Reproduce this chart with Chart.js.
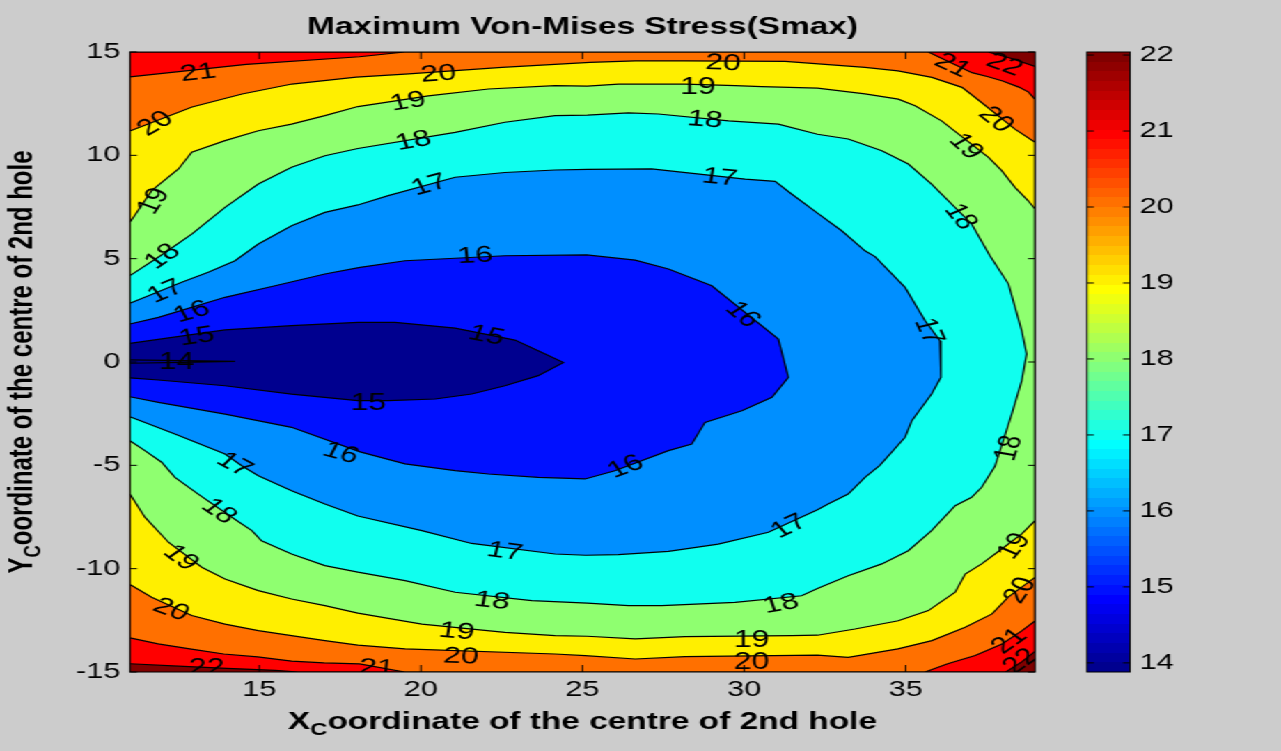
<!DOCTYPE html>
<html>
<head>
<meta charset="utf-8">
<title>Maximum Von-Mises Stress(Smax)</title>
<script src="https://cdn.jsdelivr.net/npm/chart.js@4.4.0/dist/chart.umd.min.js"></script>
<style>
  html, body { margin: 0; padding: 0; background: #ffffff; overflow: hidden; }
  #figure { position: absolute; left: 0; top: 0; width: 920px; height: 751px; background: #cccccc;
            transform: scaleX(1.3924); transform-origin: 0 0; }
  #figure canvas { position: absolute; left: 0; top: 0; }
</style>
</head>
<body>
<div id="figure">
  <canvas id="contourChart" width="920" height="751"></canvas>
  <canvas id="colorbarChart" width="920" height="751"></canvas>
</div>
<script>
// axis ranges and ticks
const xRange = [11, 39];
const yRange = [-15, 15];
const colorRange = [13.88, 22.04];
const xTicks = [15, 20, 25, 30, 35];
const yTicks = [-15, -10, -5, 0, 5, 10, 15];
const colorbarTicks = [14, 15, 16, 17, 18, 19, 20, 21, 22];

// contour lines, [x, y] in data units
const c22TopRight = [[37.55, 15], [38.25, 14.7], [39, 14.3]];
const c22BottomRight = [[39, -14], [38.6, -14.5], [38.1, -15]];
const c22BottomLeft = [[11, -14.6], [12.5, -14.72], [14, -14.82], [15.5, -14.92], [16.2, -15]];

const c21TopLeft = [[11, 13.8], [14.6, 14.4], [18.1, 14.77], [19.5, 15]];
const c21TopRight = [[35.7, 15], [37.05, 14], [37.55, 13.8], [38, 13.6], [38.5, 13.3], [38.8, 13.06], [39, 12.7]];
const c21BottomLeft = [[11, -13.35], [11.87, -13.64], [12.9, -13.89], [13.9, -14.13], [14.95, -14.27], [16, -14.47], [17, -14.56], [18.1, -14.61], [19.5, -15]];
const c21BottomRight = [[35.6, -15], [36.3, -14.6], [37.15, -14.2], [37.98, -13.64], [38.6, -13.0], [39, -12.53]];

const c20Top = [[11, 11.18], [12.92, 12.34], [14.47, 12.97], [16.01, 13.45], [18.0, 13.78], [19.51, 13.93], [22.51, 14.26],
  [25.23, 14.5], [26.63, 14.57], [28.17, 14.57], [31.27, 14.55], [33.74, 14.26], [34.76, 14.09], [35.81, 13.77],
  [36.74, 13.29], [37.14, 12.81], [38.38, 11.27], [39, 10.63]];
const c20Bottom = [[11, -10.77], [11.67, -11.38], [12.91, -12.27], [13.94, -12.68], [14.97, -13.0], [16.0, -13.24],
  [17.03, -13.48], [18.05, -13.7], [19.51, -13.88], [24.15, -14.13], [25.08, -14.21], [26.63, -14.37], [28.17, -14.26],
  [32.27, -14.18], [33.22, -14.29], [34.76, -13.88], [35.81, -13.48], [36.84, -12.84], [37.67, -12.19], [38.17, -11.38], [39, -10.42]];

const c19Top = [[11, 6.76], [11.67, 8.29], [12.5, 9.34], [12.91, 10.15], [13.94, 10.71], [14.97, 11.19], [16.0, 11.51],
  [17.03, 11.92], [18.05, 12.36], [20.23, 12.88], [22.09, 13.21], [24.15, 13.37], [25.15, 13.35], [26.11, 13.45],
  [28.17, 13.45], [29.72, 13.37], [30.54, 13.32], [32.27, 13.25], [33.74, 12.97], [34.77, 12.72], [35.29, 12.4],
  [36.11, 11.67], [37.56, 9.9], [37.97, 9.26], [38.38, 8.45], [38.79, 7.8], [39, 7.4]];
const c19Bottom = [[11, -6.39], [11.46, -7.51], [12.19, -8.72], [13.22, -9.93], [13.94, -10.5], [14.97, -11.06], [16.0, -11.47],
  [17.03, -11.79], [18.05, -12.15], [20.03, -12.68], [22.6, -13.08], [24.15, -13.24], [25.15, -13.27], [26.63, -13.4],
  [28.17, -13.29], [31.47, -13.24], [32.27, -13.22], [33.43, -12.92], [34.77, -12.52], [35.7, -12.03], [36.53, -11.14],
  [36.84, -10.26], [37.35, -9.77], [37.97, -9.05], [38.59, -8.32], [39, -7.68]];

const c18 = [[11, 4.18], [11.93, 5.13], [12.91, 6.19], [13.94, 7.48], [14.97, 8.61], [16.0, 9.42], [17.03, 9.98], [18.05, 10.33],
  [21.06, 11.11], [22.6, 11.6], [24.15, 11.92], [25.15, 11.95], [26.42, 12.05], [27.35, 12.0], [29.52, 11.67], [31.06, 11.51],
  [32.27, 11.02], [33.22, 10.79], [34.26, 10.22], [35.08, 9.58], [35.8, 8.61], [37.04, 6.68], [37.6, 5.15], [38.18, 3.77],
  [38.59, 1.51], [38.74, 0.39], [38.59, -0.9], [38.28, -2.52], [37.76, -5.05], [37.35, -6.06], [37.04, -6.55], [36.53, -6.95],
  [35.8, -8.16], [35.08, -9.13], [34.26, -9.77], [33.22, -10.34], [32.27, -10.96], [31.78, -11.31], [29.72, -11.63],
  [27.45, -11.79], [26.42, -11.79], [25.15, -11.67], [23.43, -11.55], [21.06, -11.14], [19.51, -10.58], [18.05, -10.17],
  [17.03, -9.85], [16.0, -9.29], [15.07, -8.65], [14.77, -8.16], [14.15, -7.51], [13.11, -6.39], [12.39, -5.58],
  [11.98, -4.85], [11.46, -4.29], [11, -3.81]];

const c17 = [[11, 2.84], [12.6, 3.86], [13.42, 4.34], [14.25, 4.9], [14.97, 5.71], [16.0, 6.59], [17.03, 7.24], [18.05, 7.6],
  [18.99, 8.05], [21.06, 8.94], [22.6, 9.17], [24.15, 9.29], [25.15, 9.32], [27.14, 9.34], [30.03, 8.85], [30.96, 8.74],
  [31.47, 8.13], [32.27, 7.2], [33.02, 6.35], [33.74, 5.38], [34.05, 5.1], [34.98, 3.61], [35.6, 2.0], [36.06, 1.03],
  [36.09, -0.74], [35.8, -1.55], [35.19, -2.84], [34.98, -3.64], [34.2, -5.0], [33.74, -5.58], [33.22, -6.39], [32.6, -6.87],
  [32.27, -7.15], [30.75, -8.24], [29.2, -8.81], [27.66, -9.16], [26.11, -9.32], [25.1, -9.35], [24.15, -9.29],
  [21.57, -8.78], [20.03, -8.16], [18.05, -7.45], [17.03, -6.87], [16.0, -6.23], [14.97, -5.5], [14.46, -5.02],
  [13.94, -4.45], [12.39, -3.48], [11, -2.65]];

const c16 = [[11, 1.84], [11.88, 2.16], [13.94, 3.13], [15.49, 3.69], [17.03, 4.26], [18.12, 4.58], [19.51, 4.9], [22.6, 5.14],
  [25.13, 5.18], [26.63, 4.93], [27.66, 4.5], [29.0, 3.69], [31.06, 1.11], [31.37, -0.74], [30.86, -1.71], [29.93, -2.36],
  [28.79, -2.92], [28.38, -3.97], [27.66, -4.29], [26.0, -5.26], [25.08, -5.66], [23.63, -5.58], [22.09, -5.42],
  [21.06, -5.26], [19.51, -4.93], [18.12, -4.35], [16.0, -3.16], [13.94, -2.52], [11.88, -1.95], [11, -1.68]];

const c15 = [[11, 0.9], [13.94, 1.55], [16.0, 1.76], [18.05, 1.92], [19.2, 1.92], [21.06, 1.64], [22.91, 1.06], [23.63, 0.55],
  [24.41, -0.02], [23.63, -0.66], [22.6, -1.15], [21.57, -1.55], [20.44, -1.79], [18.99, -1.87], [18.05, -1.87],
  [16.0, -1.55], [13.94, -1.15], [11.88, -0.87], [11, -0.77]];

const c14 = [[11, 0.1], [12.6, 0.07], [14.25, 0.03], [12.6, -0.02], [11, -0.06]];

// contour labels: text, x, y, angle (degrees, as seen in the picture)
const contourLabels = [
  ['21', 13.1, 14.03, 6], ['20', 11.77, 11.56, 30], ['19', 11.7, 7.8, 55], ['18', 11.99, 5.13, 34],
  ['17', 12.08, 3.45, 22], ['16', 12.9, 2.46, 16], ['15', 13.06, 1.27, 8], ['14', 12.44, 0.03, 0],
  ['20', 20.54, 13.97, 4], ['19', 19.6, 12.64, 9], ['18', 19.76, 10.74, 10], ['17', 20.25, 8.61, 15],
  ['16', 21.68, 5.18, 3], ['15', 22.04, 1.32, -11], ['15', 18.37, -1.95, 0],
  ['20', 29.35, 14.5, -2], ['19', 28.57, 13.32, 0], ['18', 28.79, 11.76, -4], ['17', 29.25, 8.97, -5],
  ['21', 36.47, 14.38, -25], ['22', 38.07, 14.42, -20], ['20', 37.82, 11.76, -38], ['19', 36.89, 10.46, -42],
  ['18', 36.73, 7.05, -50], ['16', 29.98, 2.32, -39], ['17', 35.75, 1.51, -65], ['18', 38.16, -4.16, 72],
  ['16', 26.32, -5.03, 20], ['16', 17.53, -4.37, -15], ['17', 14.25, -4.93, -28], ['18', 13.78, -7.19, -34],
  ['19', 12.6, -9.45, -37], ['20', 12.29, -11.95, -20], ['22', 13.37, -14.77, 0], ['21', 18.63, -14.77, -3],
  ['17', 22.6, -9.13, -7], ['18', 22.21, -11.52, -6], ['19', 21.11, -13.0, -5], ['20', 21.24, -14.21, -2],
  ['17', 31.37, -7.92, 25], ['18', 31.13, -11.67, 10], ['19', 30.23, -13.43, 0], ['20', 30.23, -14.48, 0],
  ['19', 38.33, -8.89, 50], ['20', 38.51, -11.03, 55], ['21', 38.18, -13.48, 35], ['22', 38.54, -14.45, 35]
];

const TITLE = 'Maximum Von-Mises Stress(Smax)';
const FONT = '"Liberation Sans", Arial, sans-serif';
const STRETCH = 1281 / 920;   // the figure is drawn narrow and widened by css

document.addEventListener('DOMContentLoaded', function() {
    Chart.defaults.font.family = FONT;
    Chart.defaults.color = '#000';

    // pixel frame of the axes and colorbar in the reference (visual px)
    const plotLeft = 130 / STRETCH;
    const plotRight = 1035 / STRETCH;
    const barLeft = 1087 / STRETCH;
    const barRight = 1130 / STRETCH;

    /**
     * MATLAB jet(64) colormap row, i in 1..64.
     */
    function jet64(i) {
        const n = 16;
        const u = [];
        for (let k = 1; k <= n; k++) u.push(k / n);
        for (let k = 0; k < n - 1; k++) u.push(1);
        for (let k = n; k >= 1; k--) u.push(k / n);
        const comp = (j) => (j >= 1 && j <= u.length ? u[j - 1] : 0);
        return [comp(i - 24), comp(i - 8), comp(i + 8)].map(c => Math.round(c * 255));
    }

    /**
     * Colour that MATLAB gives to a value with caxis = colorRange.
     */
    function jetColor(v) {
        let idx = Math.floor((v - colorRange[0]) / (colorRange[1] - colorRange[0]) * 64) + 1;
        idx = Math.max(1, Math.min(64, idx));
        const [r, g, b] = jet64(idx);
        return `rgb(${r}, ${g}, ${b})`;
    }

    const toPoints = (pairs) => pairs.map(([x, y]) => ({ x, y }));
    const rev = (arr) => arr.slice().reverse();

    // sub-level regions, innermost first so it ends up on top
    const regions = [
        { level: 14, path: c14 },
        { level: 15, path: c15 },
        { level: 16, path: c16 },
        { level: 17, path: c17 },
        { level: 18, path: c18 },
        { level: 19, path: [...c19Top, ...rev(c19Bottom)] },
        { level: 20, path: [...c20Top, ...rev(c20Bottom)] },
        { level: 21, path: [...c21TopLeft, ...c21TopRight, ...rev(c21BottomRight), ...rev(c21BottomLeft)] },
        { level: 22, path: [[xRange[0], yRange[1]], ...c22TopRight, ...c22BottomRight, ...rev(c22BottomLeft)] }
    ];

    const tickFont = { family: FONT, size: 22 };

    const backgroundPlugin = {
        id: 'contourBackground',
        beforeDatasetsDraw(chart) {
            const { ctx, chartArea: a } = chart;
            ctx.save();
            ctx.fillStyle = jetColor(22);
            ctx.fillRect(a.left, a.top, a.width, a.height);
            ctx.restore();
        }
    };

    const labelPlugin = {
        id: 'contourLabels',
        afterDatasetsDraw(chart) {
            const { ctx, chartArea: a, scales: { x, y } } = chart;
            ctx.save();
            ctx.beginPath();
            ctx.rect(a.left, a.top, a.width, a.height);
            ctx.clip();
            ctx.font = `23px ${FONT}`;
            ctx.fillStyle = '#000';
            ctx.textAlign = 'center';
            ctx.textBaseline = 'middle';
            contourLabels.forEach(([text, lx, ly, deg]) => {
                const t = deg * Math.PI / 180;
                const inner = Math.atan2(STRETCH * Math.sin(t), Math.cos(t));
                ctx.save();
                ctx.translate(x.getPixelForValue(lx), y.getPixelForValue(ly));
                ctx.rotate(-inner);
                ctx.fillText(text, 0, 1);
                ctx.restore();
            });
            ctx.restore();
        }
    };

    /**
     * Black box with MATLAB style inward ticks.
     */
    function drawBox(chart, xVals, yVals, yBothSides) {
        const { ctx, chartArea: a, scales } = chart;
        ctx.save();
        ctx.strokeStyle = '#000';
        ctx.lineWidth = 1;
        ctx.strokeRect(a.left, a.top, a.width, a.height);
        ctx.beginPath();
        xVals.forEach(v => {
            const px = scales.x.getPixelForValue(v);
            ctx.moveTo(px, a.bottom); ctx.lineTo(px, a.bottom - 7);
            ctx.moveTo(px, a.top); ctx.lineTo(px, a.top + 7);
        });
        yVals.forEach(v => {
            const py = scales.y.getPixelForValue(v);
            if (yBothSides) { ctx.moveTo(a.left, py); ctx.lineTo(a.left + 5, py); }
            ctx.moveTo(a.right, py); ctx.lineTo(a.right - 5, py);
        });
        ctx.stroke();
        ctx.restore();
    }

    const boxPlugin = {
        id: 'axesBox',
        afterDatasetsDraw(chart) { drawBox(chart, xTicks, yTicks, true); }
    };

    /**
     * Axis label with a subscript letter, e.g. X_C oordinate ...
     */
    function drawSubLabel(ctx, cx, cy, head, sub, tail, vertical) {
        const big = `bold 24px ${FONT}`;
        const small = `bold 17px ${FONT}`;
        ctx.save();
        ctx.translate(cx, cy);
        if (vertical) ctx.rotate(-Math.PI / 2);
        ctx.fillStyle = '#000';
        ctx.textBaseline = 'alphabetic';
        ctx.font = big;
        const w1 = ctx.measureText(head).width;
        const w3 = ctx.measureText(tail).width;
        ctx.font = small;
        const w2 = ctx.measureText(sub).width;
        let x = -(w1 + w2 + w3) / 2;
        ctx.font = big; ctx.fillText(head, x, 8); x += w1;
        ctx.font = small; ctx.fillText(sub, x, 14); x += w2;
        ctx.font = big; ctx.fillText(tail, x, 8);
        ctx.restore();
    }

    const axisTitlePlugin = {
        id: 'axisTitles',
        afterDraw(chart) {
            const { ctx, chartArea: a } = chart;
            drawSubLabel(ctx, (a.left + a.right) / 2, 721, 'X', 'C', 'oordinate of the centre of 2nd hole', false);
            drawSubLabel(ctx, 15, (a.top + a.bottom) / 2, 'Y', 'C', 'oordinate of the centre of 2nd hole', true);
        }
    };

    new Chart(document.getElementById('contourChart'), {
        type: 'scatter',
        data: {
            datasets: regions.map(r => ({
                label: `Smax < ${r.level}`,
                data: toPoints(r.path),
                showLine: true,
                fill: 'shape',
                backgroundColor: jetColor(r.level - 1),
                borderColor: '#000',
                borderWidth: 1.2,
                pointRadius: 0,
                pointHoverRadius: 0,
                tension: 0
            }))
        },
        options: {
            responsive: false,
            animation: false,
            events: [],
            layout: { padding: { left: 0, right: 920 - plotRight, top: 0, bottom: 0 } },
            plugins: {
                legend: { display: false },
                tooltip: { enabled: false },
                title: {
                    display: true,
                    text: TITLE,
                    color: '#000',
                    fullSize: false,
                    font: { family: FONT, size: 24, weight: 'bold', lineHeight: 1.2 },
                    padding: { top: 13, bottom: 10.2 }
                }
            },
            scales: {
                x: {
                    type: 'linear',
                    min: xRange[0],
                    max: xRange[1],
                    afterBuildTicks: (axis) => { axis.ticks = xTicks.map(value => ({ value })); },
                    afterFit: (axis) => { axis.height = 751 - 672; },
                    grid: { display: false, drawTicks: false },
                    border: { display: false },
                    ticks: { font: tickFont, color: '#000', padding: 5, maxRotation: 0, autoSkip: false }
                },
                y: {
                    type: 'linear',
                    min: yRange[0],
                    max: yRange[1],
                    afterBuildTicks: (axis) => { axis.ticks = yTicks.map(value => ({ value })); },
                    afterFit: (axis) => { axis.width = plotLeft; },
                    grid: { display: false, drawTicks: false },
                    border: { display: false },
                    ticks: { font: tickFont, color: '#000', padding: 7, autoSkip: false }
                }
            }
        },
        plugins: [backgroundPlugin, labelPlugin, boxPlugin, axisTitlePlugin]
    });

    /**
     * Stepped jet gradient for the colorbar bar.
     */
    function colorbarGradient(chart) {
        const { ctx, chartArea, scales } = chart;
        if (!chartArea) return '#000';
        const y0 = scales.y.getPixelForValue(colorRange[0]);
        const y1 = scales.y.getPixelForValue(colorRange[1]);
        const grad = ctx.createLinearGradient(0, y0, 0, y1);
        for (let k = 0; k < 64; k++) {
            const [r, g, b] = jet64(k + 1);
            const c = `rgb(${r}, ${g}, ${b})`;
            grad.addColorStop(k / 64, c);
            grad.addColorStop((k + 1) / 64, c);
        }
        return grad;
    }

    const colorbarBoxPlugin = {
        id: 'colorbarBox',
        afterDatasetsDraw(chart) { drawBox(chart, [], colorbarTicks, true); }
    };

    new Chart(document.getElementById('colorbarChart'), {
        type: 'bar',
        data: {
            labels: ['Smax'],
            datasets: [{
                data: [colorRange],
                backgroundColor: (c) => colorbarGradient(c.chart),
                borderWidth: 0,
                barPercentage: 1,
                categoryPercentage: 1
            }]
        },
        options: {
            responsive: false,
            animation: false,
            events: [],
            layout: { padding: { left: barLeft, right: 0, top: 52, bottom: 751 - 672 } },
            plugins: { legend: { display: false }, tooltip: { enabled: false } },
            scales: {
                x: { display: false },
                y: {
                    position: 'right',
                    min: colorRange[0],
                    max: colorRange[1],
                    afterBuildTicks: (axis) => { axis.ticks = colorbarTicks.map(value => ({ value })); },
                    afterFit: (axis) => { axis.width = 920 - barRight; },
                    grid: { display: false, drawTicks: false },
                    border: { display: false },
                    ticks: { font: tickFont, color: '#000', padding: 7, autoSkip: false }
                }
            }
        },
        plugins: [colorbarBoxPlugin]
    });
});
</script>
</body>
</html>
